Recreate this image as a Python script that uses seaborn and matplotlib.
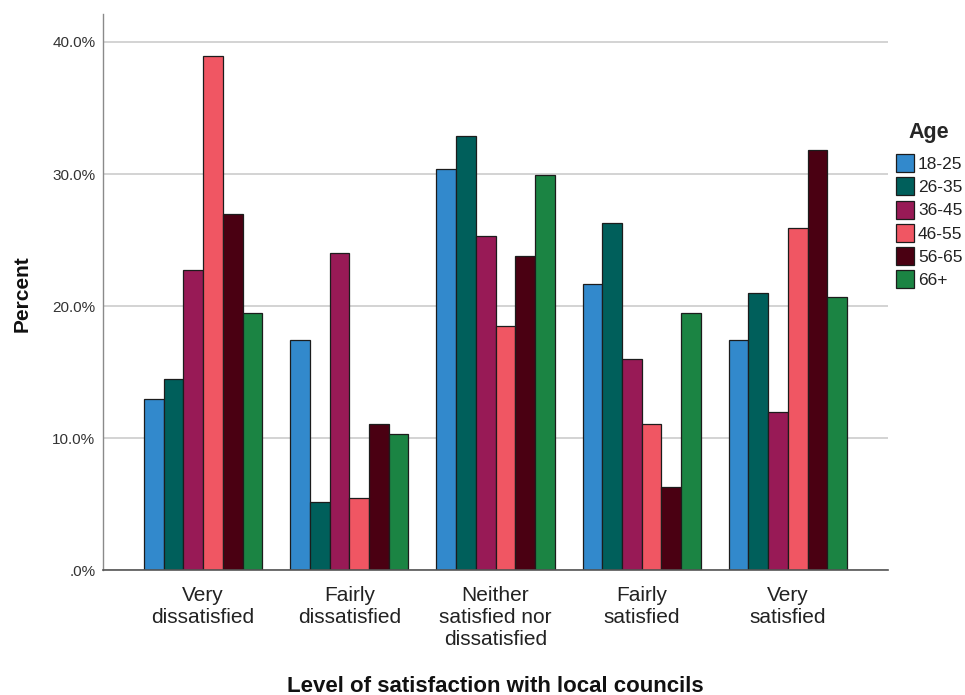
import matplotlib
matplotlib.use("Agg")
import matplotlib.pyplot as plt
import seaborn as sns
import pandas as pd
from matplotlib.ticker import FixedLocator, FuncFormatter

# Satisfaction categories (x axis)
categories = [
    "Very\ndissatisfied",
    "Fairly\ndissatisfied",
    "Neither\nsatisfied nor\ndissatisfied",
    "Fairly\nsatisfied",
    "Very\nsatisfied",
]

# Age groups (hue)
age_groups = ["18-25", "26-35", "36-45", "46-55", "56-65", "66+"]

# Percent of each age group per satisfaction level
pct_18_25 = [13.0, 17.4, 30.4, 21.7, 17.4]
pct_26_35 = [14.5, 5.2, 32.9, 26.3, 21.0]
pct_36_45 = [22.7, 24.0, 25.3, 16.0, 12.0]
pct_46_55 = [38.9, 5.5, 18.5, 11.1, 25.9]
pct_56_65 = [27.0, 11.1, 23.8, 6.3, 31.8]
pct_66_plus = [19.5, 10.3, 29.9, 19.5, 20.7]

y_ticks = [0, 10, 20, 30, 40]

series = [pct_18_25, pct_26_35, pct_36_45, pct_46_55, pct_56_65, pct_66_plus]
rows = []
for age, vals in zip(age_groups, series):
    for cat, v in zip(categories, vals):
        rows.append({"Level": cat, "Age": age, "Percent": v})
df = pd.DataFrame(rows)

palette = ["#3289cc", "#005f5b", "#981a56", "#f05663", "#4a0012", "#1b8443"]

sns.set_theme(style="white")
plt.rcParams["font.family"] = ["Liberation Sans", "DejaVu Sans"]

fig = plt.figure(figsize=(9.65, 6.95), dpi=100)
W, H = 965, 695
ax = fig.add_axes([103 / W, (H - 570.3) / H, 785 / W, (570.3 - 14.3) / H])

sns.barplot(
    data=df, x="Level", y="Percent", hue="Age",
    order=categories, hue_order=age_groups, palette=palette,
    width=0.81, edgecolor="#1c1c1c", linewidth=0.9, saturation=1,
    errorbar=None, ax=ax,
)

ax.set_xlim(-0.684, 4.684)
ax.set_ylim(0, 42.09)
ax.yaxis.set_major_locator(FixedLocator(y_ticks))
ax.yaxis.set_major_formatter(
    FuncFormatter(lambda v, p: ".0%" if v == 0 else f"{v:.1f}%")
)
ax.grid(axis="y", color="#c8c8c8", linewidth=1.1)
ax.set_axisbelow(True)

for s in ("top", "right"):
    ax.spines[s].set_visible(False)
ax.spines["left"].set_color("#8a8a8a")
ax.spines["left"].set_linewidth(1.0)
ax.spines["bottom"].set_color("#555555")
ax.spines["bottom"].set_linewidth(1.2)

ax.tick_params(axis="y", length=0, pad=5.5, labelsize=11, labelcolor="#333333")
ax.tick_params(axis="x", length=0, pad=11.5, labelsize=15, labelcolor="#222222")
for lbl in ax.get_xticklabels():
    lbl.set_linespacing(1.2)

ax.set_ylabel("Percent", fontsize=15, fontweight="bold", color="#111111")
ax.yaxis.set_label_coords(-0.0915, 0.497)
ax.set_xlabel("Level of satisfaction with local councils",
              fontsize=16, fontweight="bold", color="#111111")
ax.xaxis.set_label_coords(0.5, -0.19)
ax.xaxis.label.set_va("top")

sns.move_legend(
    ax, loc="upper left", bbox_to_anchor=(896 / W, 1 - 122 / H),
    bbox_transform=fig.transFigure, frameon=False, title="Age",
    fontsize=12.5, title_fontproperties={"weight": "bold", "size": 15.5},
    handlelength=1.02, handleheight=1.22, handletextpad=0.25,
    labelspacing=0.3, borderpad=0, borderaxespad=0,
)
leg = ax.get_legend()
leg._legend_box.sep = 8
for t in leg.get_texts():
    t.set_color("#222222")

fig.savefig("out.png", dpi=100)
